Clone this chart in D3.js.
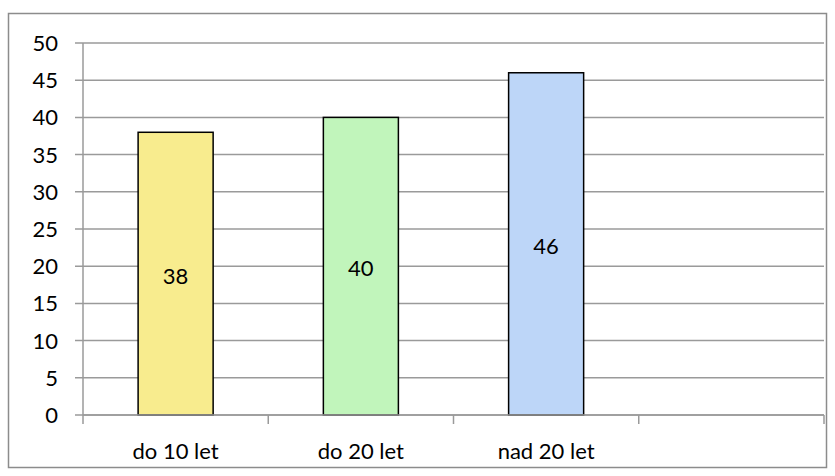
<!DOCTYPE html>
<html>
<head>
<meta charset="utf-8">
<script src="https://cdn.jsdelivr.net/npm/d3@7"></script>
<style>
  body { margin: 0; background: #fff; }
  text { font-family: Lato, "Open Sans", sans-serif; fill: #000; }
</style>
</head>
<body>
<div class="viz"></div>
<script>
const categories = ['do 10 let', 'do 20 let', 'nad 20 let', ''];
const values = [38, 40, 46, null];
const colors = ['#f8ec8e', '#c1f5bb', '#bdd6f8'];
const yTicks = [0, 5, 10, 15, 20, 25, 30, 35, 40, 45, 50];

const w = 835, h = 476;
const fontSize = '22px';
const svg = d3.select('.viz').append('svg')
    .attr('width', w)
    .attr('height', h);

// outer chart frame
svg.append('rect')
    .attr('x', 8.5).attr('y', 13.5)
    .attr('width', 818).attr('height', 454)
    .attr('fill', 'none')
    .attr('stroke', '#8c8c8c')
    .attr('stroke-width', 1.5);

const plotL = 83, plotR = 824, plotT = 43, plotB = 415;

const x = d3.scaleBand().domain(d3.range(categories.length)).range([plotL, plotR]).paddingInner(0.595).paddingOuter(0.2975);
const xs = d3.scaleBand().domain(d3.range(categories.length)).range([plotL, plotR]);
const y = d3.scaleLinear().domain([0, 50]).range([plotB, plotT]);

// gridlines
svg.append('g').selectAll('line')
    .data(yTicks)
    .enter().append('line')
    .attr('x1', plotL - 8).attr('x2', plotR)
    .attr('y1', d => y(d)).attr('y2', d => y(d))
    .attr('stroke', '#9a9a9a')
    .attr('stroke-width', 1.5);

// y axis line
svg.append('line')
    .attr('x1', plotL).attr('x2', plotL)
    .attr('y1', plotT).attr('y2', plotB)
    .attr('stroke', '#9a9a9a').attr('stroke-width', 1.5);

// y labels
svg.append('g').selectAll('text')
    .data(yTicks)
    .enter().append('text')
    .attr('x', 58).attr('y', d => y(d))
    .attr('dy', '0.36em')
    .attr('text-anchor', 'end')
    .style('font-size', fontSize)
    .text(d => d);

// bars
const bars = svg.append('g').selectAll('g')
    .data(values.map((v, i) => ({ v, i })).filter(d => d.v != null))
    .enter().append('g');

bars.append('rect')
    .attr('x', d => x(d.i))
    .attr('width', x.bandwidth())
    .attr('y', d => y(d.v))
    .attr('height', d => y(0) - y(d.v))
    .attr('fill', d => colors[d.i])
    .attr('stroke', '#000')
    .attr('stroke-width', 1.5);

bars.append('text')
    .attr('x', d => x(d.i) + x.bandwidth() / 2)
    .attr('y', d => (y(d.v) + y(0)) / 2 + 2)
    .attr('dy', '0.36em')
    .attr('text-anchor', 'middle')
    .style('font-size', fontSize)
    .text(d => d.v);

// x axis
svg.append('line')
    .attr('x1', plotL).attr('x2', plotR)
    .attr('y1', plotB).attr('y2', plotB)
    .attr('stroke', '#9a9a9a').attr('stroke-width', 1.5);

const tickPos = categories.map((c, i) => xs(i)).concat([plotR]);
svg.append('g').selectAll('line')
    .data(tickPos)
    .enter().append('line')
    .attr('x1', d => d).attr('x2', d => d)
    .attr('y1', plotB).attr('y2', plotB + 9)
    .attr('stroke', '#9a9a9a').attr('stroke-width', 1.5);

svg.append('g').selectAll('text')
    .data(categories)
    .enter().append('text')
    .attr('x', (d, i) => xs(i) + xs.bandwidth() / 2)
    .attr('y', 459)
    .attr('text-anchor', 'middle')
    .style('font-size', fontSize)
    .text(d => d);
</script>
</body>
</html>
